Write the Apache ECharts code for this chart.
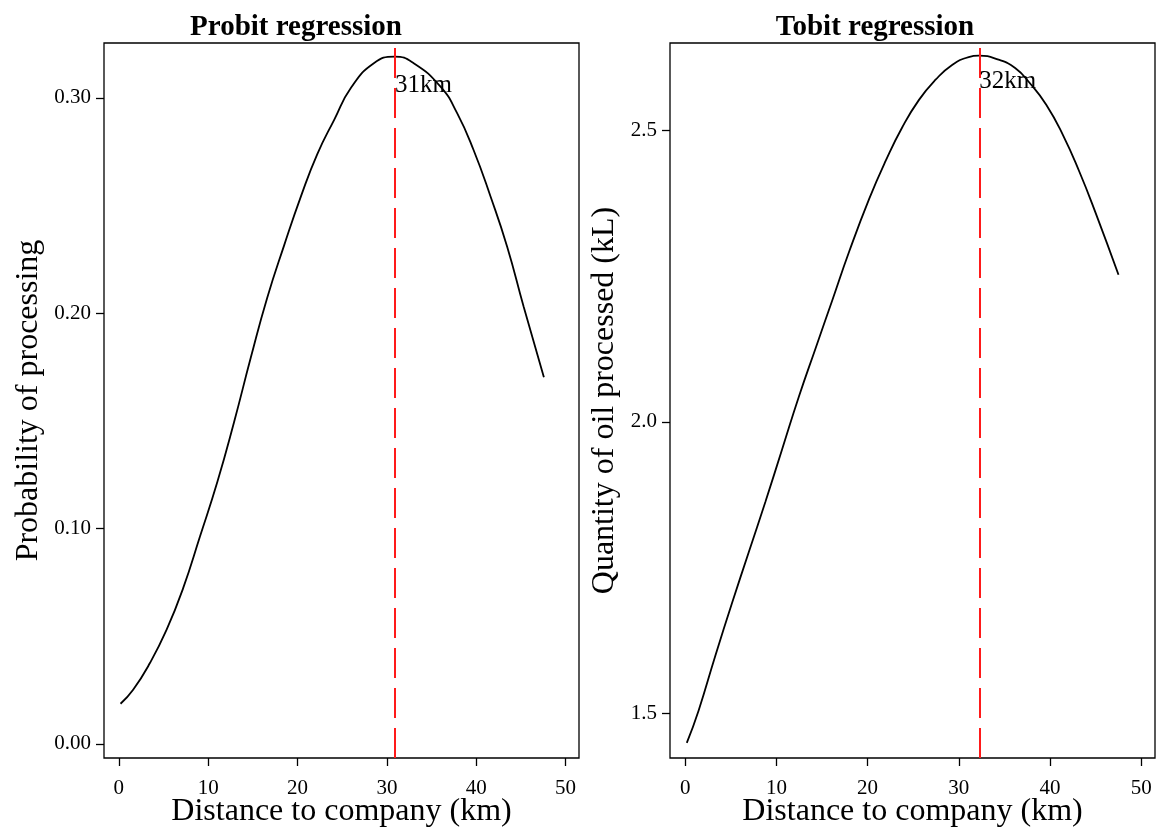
<!DOCTYPE html>
<html>
<head>
<meta charset="utf-8">
<title>Probit and Tobit regression</title>
<script src="https://cdn.jsdelivr.net/npm/echarts@6/dist/echarts.min.js"></script>
<style>
  html, body { margin: 0; padding: 0; background: #fff; }
  #chart { width: 1166px; height: 829px; }
</style>
</head>
<body>
<div id="chart"></div>
<script>
// 距离（km）与预测值
const probitDist = [0.19, 1.6, 3.48, 5.35, 7.2, 9.08, 11.03, 12.9, 14.77, 16.6, 18.5, 20.4, 22.2, 24.1, 26.0, 28.5, 30.86, 33.0, 36.0, 37.86, 39.7, 41.6, 43.46, 45.3, 47.57]
const probitProb = [0.0186, 0.0251, 0.0375, 0.053, 0.0723, 0.0963, 0.1217, 0.1495, 0.1794, 0.2071, 0.2315, 0.2545, 0.2738, 0.2898, 0.3048, 0.316, 0.3192, 0.3161, 0.3052, 0.2929, 0.2758, 0.2542, 0.2309, 0.2031, 0.1703]

const tobitDist = [0.18, 1.47, 3.3, 5.14, 6.97, 8.8, 10.64, 12.48, 14.31, 16.15, 17.98, 20.17, 22.0, 23.8, 25.63, 27.45, 29.26, 31.08, 32.17, 34.35, 36.17, 37.77, 39.58, 41.4, 43.2, 45.0, 47.5]
const tobitQty = [1.4487, 1.504, 1.598, 1.689, 1.776, 1.8628, 1.9535, 2.044, 2.127, 2.2098, 2.2926, 2.383, 2.449, 2.506, 2.553, 2.5876, 2.613, 2.6266, 2.6289, 2.622, 2.6077, 2.582, 2.5447, 2.493, 2.43, 2.3586, 2.2526]

// 最优距离
const probitPeak = 30.9
const tobitPeak = 32.25
const peakLabels = ['31km', '32km']
const peakLabelY = [0.3057, 2.584]

// 刻度
const xTicks = [0, 10, 20, 30, 40, 50]
const probitTicks = [0, 0.1, 0.2, 0.3]
const tobitTicks = [1.5, 2.0, 2.5]

const FONT = "'Liberation Serif', 'Times New Roman', serif"

function pairs(xs, ys) {
  let out = []
  for (let i = 0; i < xs.length; i++) {
    out.push([xs[i], ys[i]])
  }
  return out
}

function xAxisOf(gridIndex) {
  return {
    type: 'value',
    gridIndex: gridIndex,
    min: -1.66,
    max: 51.5,
    name: 'Distance to company (km)',
    nameLocation: 'middle',
    nameGap: 38,
    nameMoveOverlap: false,
    nameTextStyle: { fontFamily: FONT, fontSize: 32, color: '#000' },
    axisLine: { show: false, onZero: false },
    axisTick: { show: true, length: 8, customValues: xTicks, lineStyle: { color: '#000', width: 1.3 } },
    axisLabel: { customValues: xTicks, margin: 20, fontFamily: FONT, fontSize: 21, color: '#000' },
    splitLine: { show: false }
  }
}

function yAxisOf(gridIndex, min, max, ticks, digits, title, gap) {
  return {
    type: 'value',
    gridIndex: gridIndex,
    min: min,
    max: max,
    name: title,
    nameLocation: 'middle',
    nameGap: gap,
    nameMoveOverlap: false,
    nameTextStyle: { fontFamily: FONT, fontSize: 32, color: '#000' },
    axisLine: { show: false, onZero: false },
    axisTick: { show: true, length: 8, customValues: ticks, lineStyle: { color: '#000', width: 1.3 } },
    axisLabel: {
      customValues: ticks,
      margin: 13,
      fontFamily: FONT,
      fontSize: 21,
      color: '#000',
      formatter: v => v.toFixed(digits)
    },
    splitLine: { show: false }
  }
}

function curveSeries(idx, data, peak, label, labelY) {
  return {
    type: 'line',
    xAxisIndex: idx,
    yAxisIndex: idx,
    data: data,
    smooth: 0.5,
    showSymbol: false,
    lineStyle: { color: '#000', width: 1.8 },
    silent: true,
    markLine: {
      silent: true,
      symbol: 'none',
      label: { show: false },
      lineStyle: { color: '#ff1a1a', width: 2, type: [30, 10] },
      data: [{ xAxis: peak }]
    },
    markPoint: {
      symbol: 'circle',
      symbolSize: 0,
      silent: true,
      label: {
        show: true,
        position: 'right',
        distance: 0,
        formatter: label,
        fontFamily: FONT,
        fontSize: 25,
        color: '#000'
      },
      data: [{ coord: [peak, labelY] }]
    }
  }
}

let chart = echarts.init(document.getElementById('chart'))

let option = {
  animation: false,
  backgroundColor: '#fff',
  title: [
    {
      text: 'Probit regression',
      left: 291,
      top: 8,
      textAlign: 'center',
      textStyle: { fontFamily: FONT, fontSize: 29, fontWeight: 'bold', color: '#000' }
    },
    {
      text: 'Tobit regression',
      left: 870,
      top: 8,
      textAlign: 'center',
      textStyle: { fontFamily: FONT, fontSize: 29, fontWeight: 'bold', color: '#000' }
    }
  ],
  grid: [
    { left: 104, right: 587, top: 43, bottom: 71, outerBoundsMode: 'none', show: true, borderColor: '#000', borderWidth: 1.3, backgroundColor: 'transparent' },
    { left: 670, right: 11, top: 43, bottom: 71, outerBoundsMode: 'none', show: true, borderColor: '#000', borderWidth: 1.3, backgroundColor: 'transparent' }
  ],
  xAxis: [xAxisOf(0), xAxisOf(1)],
  yAxis: [
    yAxisOf(0, -0.0066, 0.3255, probitTicks, 2, 'Probability of processing', 59),
    yAxisOf(1, 1.4227, 2.6507, tobitTicks, 1, 'Quantity of oil processed (kL)', 49)
  ],
  series: [
    curveSeries(0, pairs(probitDist, probitProb), probitPeak, peakLabels[0], peakLabelY[0]),
    curveSeries(1, pairs(tobitDist, tobitQty), tobitPeak, peakLabels[1], peakLabelY[1])
  ]
}

chart.setOption(option)
</script>
</body>
</html>
